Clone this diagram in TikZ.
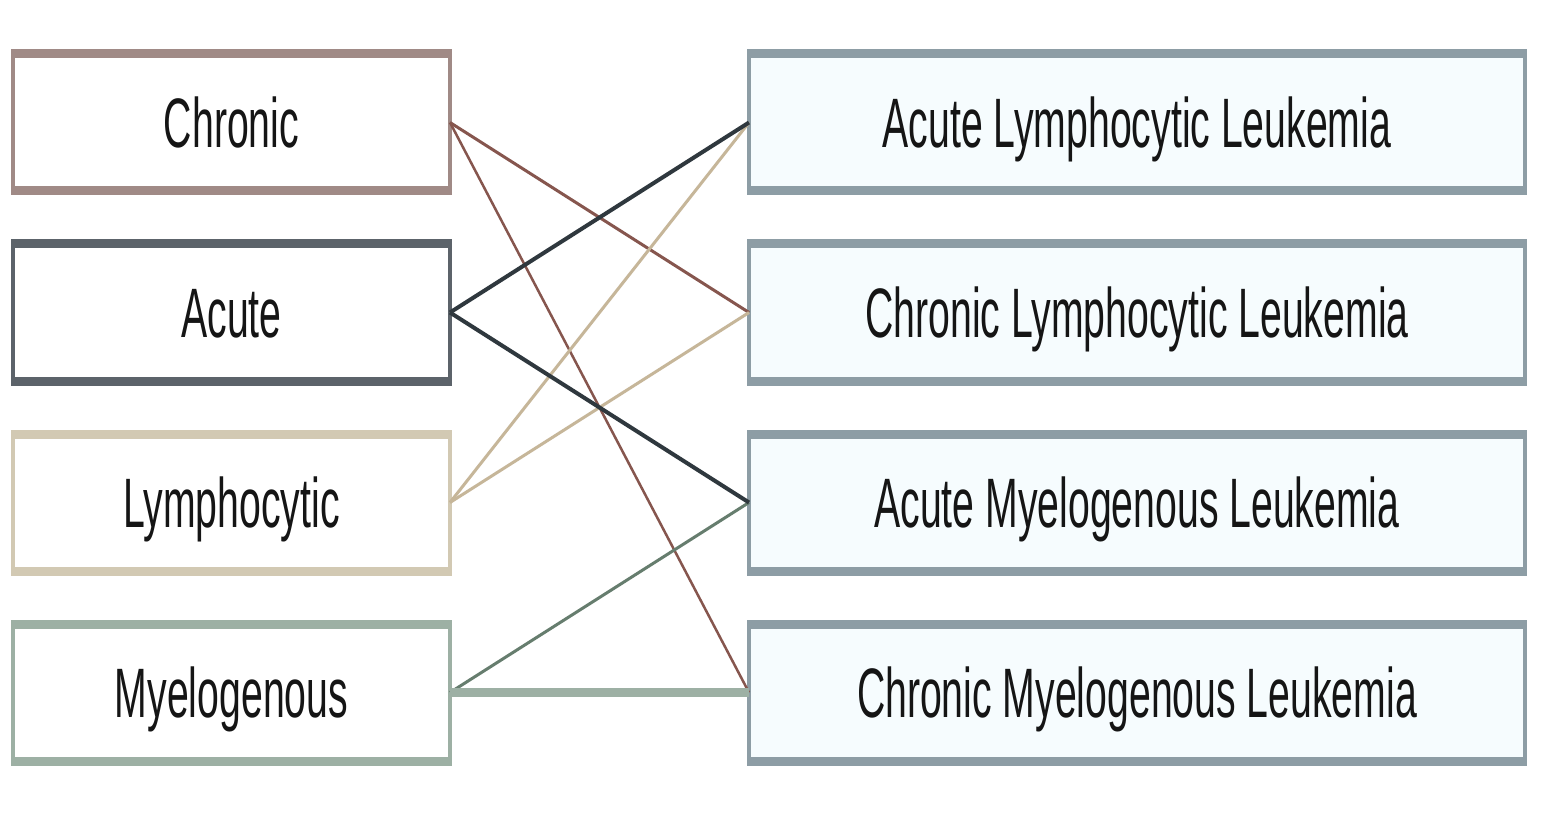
\documentclass[tikz,border=0pt]{standalone}
\usepackage{fontspec}
\setmainfont[FakeStretch=0.56]{Liberation Sans}
\usetikzlibrary{backgrounds}
\definecolor{txt}{HTML}{151515}
\definecolor{chrB}{HTML}{A08A86}
\definecolor{chrL}{HTML}{86564E}
\definecolor{chrH}{HTML}{FDF1EF}
\definecolor{acuB}{HTML}{5C636A}
\definecolor{acuL}{HTML}{2F383E}
\definecolor{acuH}{HTML}{F6F9FB}
\definecolor{lymB}{HTML}{D2C9B3}
\definecolor{lymL}{HTML}{C6B699}
\definecolor{lymH}{HTML}{FDF9F0}
\definecolor{myeB}{HTML}{9DB0A4}
\definecolor{myeL}{HTML}{667D6E}
\definecolor{myeH}{HTML}{F0FAF3}
\definecolor{rgtB}{HTML}{8D9DA5}
\definecolor{rgtF}{HTML}{F6FCFE}
\definecolor{rgtH}{HTML}{F3F9FB}
\begin{document}
\begin{tikzpicture}[x=1pt,y=-1pt,
  box/.style={draw, line width=4pt, inner sep=0pt, outer sep=0pt,
    minimum height=137pt, text height=50pt, text depth=0pt,
    font=\fontsize{70}{80}\selectfont, text=txt},
  lbox/.style={box, minimum width=437pt, fill=white},
  rbox/.style={box, minimum width=776pt, draw=rgtB, fill=rgtF},
  link/.style={line width=3pt},
  bar/.style={line width=9pt, shorten <=-2pt, shorten >=-2pt}
]
\useasboundingbox (0,0) rectangle (1548,813);
\fill[white] (0,0) rectangle (1548,813);

\node[lbox, draw=chrB] (chr) at (231.5,122.5) {Chronic};
\node[lbox, draw=acuB] (acu) at (231.5,312.5) {Acute};
\node[lbox, draw=lymB] (lym) at (231.5,502.5) {Lymphocytic};
\node[lbox, draw=myeB] (mye) at (231.5,692.5) {Myelogenous};

\node[rbox] (all) at (1137,122.5) {Acute Lymphocytic Leukemia};
\node[rbox] (cll) at (1137,312.5) {Chronic Lymphocytic Leukemia};
\node[rbox] (aml) at (1137,502.5) {Acute Myelogenous Leukemia};
\node[rbox] (cml) at (1137,692.5) {Chronic Myelogenous Leukemia};

\begin{pgfonlayer}{background}
  \foreach \n/\c in {chr/chrH, acu/acuH, lym/lymH, mye/myeH, all/rgtH, cll/rgtH, aml/rgtH, cml/rgtH}{
    \fill[\c] ([shift={(-9,-9)}]\n.north west) rectangle ([shift={(9,9)}]\n.south east);
  }
\end{pgfonlayer}

\foreach \n/\c in {chr/chrB, acu/acuB, lym/lymB, mye/myeB, all/rgtB, cll/rgtB, aml/rgtB, cml/rgtB}{
  \draw[bar, \c] (\n.north west) -- (\n.north east);
  \draw[bar, \c] (\n.south west) -- (\n.south east);
}

\draw[link, chrL] (chr.east) -- (cll.west);
\draw[link, chrL, line width=2.5pt] (chr.east) -- (cml.west);
\draw[link, lymL] (lym.east) -- (all.west);
\draw[link, lymL] (lym.east) -- (cll.west);
\draw[link, myeL] (mye.east) -- (aml.west);
\draw[link, myeB, line width=9pt] (mye.east) -- (cml.west);
\draw[link, acuL, line width=4pt] (acu.east) -- (all.west);
\draw[link, acuL, line width=4pt] (acu.east) -- (aml.west);
\end{tikzpicture}
\end{document}
